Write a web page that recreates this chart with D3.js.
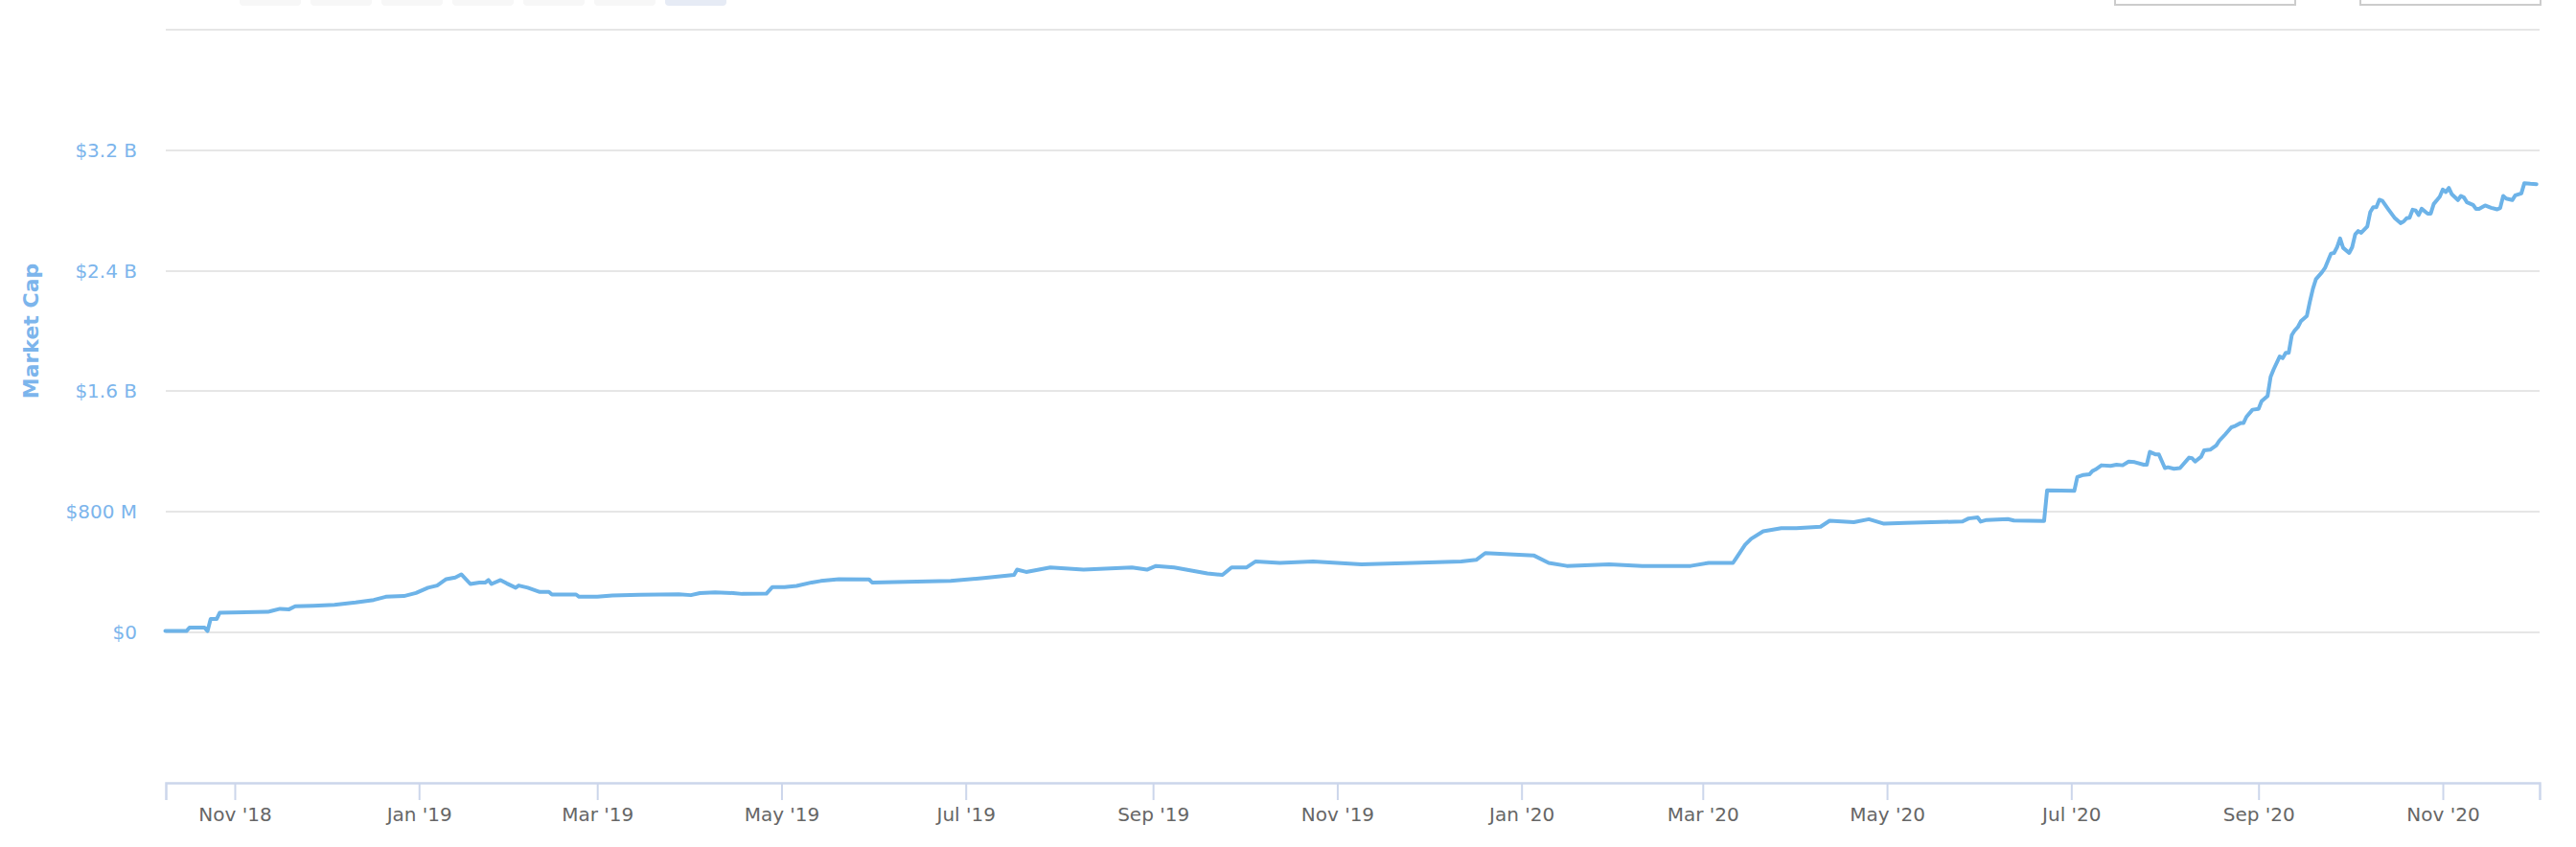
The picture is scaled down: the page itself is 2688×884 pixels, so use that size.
<!DOCTYPE html>
<html>
<head>
<meta charset="utf-8">
<script src="https://cdn.jsdelivr.net/npm/d3@7"></script>
<style>
  html, body { margin: 0; padding: 0; background: #ffffff; }
  svg { display: block; }
  text { font-family: "DejaVu Sans", "Noto Sans", sans-serif; }
</style>
</head>
<body>
<svg id="chart" width="2688" height="884"></svg>
<script>
// ---------------- DATA ----------------
const dates = [
  "2018-10-09","2018-10-16","2018-10-17","2018-10-22","2018-10-23","2018-10-24","2018-10-26","2018-10-27",
  "2018-11-12","2018-11-13","2018-11-16","2018-11-19","2018-11-21","2018-11-27","2018-12-04","2018-12-11",
  "2018-12-17","2018-12-21","2018-12-27","2018-12-31","2019-01-04","2019-01-07","2019-01-10","2019-01-13",
  "2019-01-15","2019-01-18","2019-01-21","2019-01-23","2019-01-24","2019-01-25","2019-01-28","2019-01-30",
  "2019-02-02","2019-02-03","2019-02-05","2019-02-06","2019-02-10","2019-02-13","2019-02-14","2019-02-22",
  "2019-02-23","2019-03-01","2019-03-06","2019-03-15","2019-03-28","2019-04-01","2019-04-04","2019-04-09",
  "2019-04-15","2019-04-18","2019-04-26","2019-04-28","2019-05-02","2019-05-06","2019-05-11","2019-05-14",
  "2019-05-20","2019-05-30","2019-05-31","2019-06-26","2019-07-07","2019-07-17","2019-07-18","2019-07-21",
  "2019-07-29","2019-08-09","2019-08-25","2019-08-30","2019-09-02","2019-09-08","2019-09-19","2019-09-24",
  "2019-09-27","2019-10-02","2019-10-05","2019-10-13","2019-10-24","2019-11-01","2019-11-09","2019-11-26",
  "2019-12-12","2019-12-17","2019-12-20","2020-01-05","2020-01-10","2020-01-16","2020-01-30","2020-02-10",
  "2020-02-26","2020-03-03","2020-03-11","2020-03-12","2020-03-15","2020-03-17","2020-03-21","2020-03-27",
  "2020-04-01","2020-04-09","2020-04-12","2020-04-20","2020-04-25","2020-04-30","2020-05-07","2020-05-26",
  "2020-05-28","2020-05-31","2020-06-01","2020-06-03","2020-06-10","2020-06-12","2020-06-22","2020-06-23",
  "2020-07-02","2020-07-03","2020-07-05","2020-07-07","2020-07-08","2020-07-09","2020-07-11","2020-07-14",
  "2020-07-16","2020-07-18","2020-07-20","2020-07-22","2020-07-25","2020-07-26","2020-07-27","2020-07-29",
  "2020-07-30","2020-08-01","2020-08-02","2020-08-04","2020-08-06","2020-08-09","2020-08-10","2020-08-11",
  "2020-08-13","2020-08-14","2020-08-16","2020-08-18","2020-08-19","2020-08-21","2020-08-23","2020-08-24",
  "2020-08-26","2020-08-27","2020-08-28","2020-08-30","2020-09-01","2020-09-02","2020-09-04","2020-09-05",
  "2020-09-06","2020-09-08","2020-09-09","2020-09-10","2020-09-11","2020-09-12","2020-09-13","2020-09-14",
  "2020-09-15","2020-09-17","2020-09-18","2020-09-19","2020-09-20","2020-09-22","2020-09-23","2020-09-25",
  "2020-09-26","2020-09-27","2020-09-28","2020-09-29","2020-10-01","2020-10-02","2020-10-03","2020-10-04",
  "2020-10-05","2020-10-07","2020-10-08","2020-10-09","2020-10-10","2020-10-11","2020-10-12","2020-10-14",
  "2020-10-16","2020-10-18","2020-10-19","2020-10-20","2020-10-21","2020-10-22","2020-10-23","2020-10-24",
  "2020-10-25","2020-10-27","2020-10-28","2020-10-29","2020-10-31","2020-11-01","2020-11-02","2020-11-03",
  "2020-11-04","2020-11-06","2020-11-07","2020-11-08","2020-11-09","2020-11-11","2020-11-12","2020-11-13",
  "2020-11-15","2020-11-17","2020-11-19","2020-11-20","2020-11-21","2020-11-22","2020-11-24","2020-11-25",
  "2020-11-27","2020-11-28","2020-11-30","2020-12-02"
];
// market cap in billions of USD
const marketCapB = [
  0.008,0.008,0.030,0.030,0.008,0.087,0.087,0.129,
  0.135,0.140,0.155,0.152,0.172,0.176,0.182,0.197,
  0.214,0.235,0.240,0.260,0.295,0.310,0.352,0.363,
  0.384,0.320,0.330,0.330,0.346,0.320,0.346,0.324,
  0.295,0.310,0.300,0.295,0.267,0.267,0.250,0.250,
  0.235,0.235,0.244,0.248,0.252,0.246,0.260,0.265,
  0.260,0.254,0.256,0.300,0.300,0.307,0.330,0.340,
  0.352,0.350,0.330,0.340,0.360,0.380,0.415,0.400,
  0.430,0.415,0.430,0.415,0.440,0.430,0.390,0.380,
  0.430,0.430,0.470,0.460,0.470,0.460,0.450,0.460,
  0.470,0.480,0.525,0.510,0.460,0.440,0.450,0.440,
  0.440,0.460,0.460,0.490,0.580,0.620,0.670,0.690,
  0.690,0.700,0.740,0.730,0.750,0.720,0.725,0.735,
  0.755,0.762,0.734,0.745,0.751,0.741,0.738,0.942,
  0.938,1.030,1.044,1.048,1.070,1.080,1.108,1.104,
  1.112,1.108,1.133,1.129,1.112,1.112,1.197,1.180,
  1.180,1.090,1.095,1.085,1.090,1.159,1.155,1.133,
  1.165,1.208,1.212,1.240,1.271,1.314,1.360,1.367,
  1.388,1.388,1.430,1.477,1.482,1.533,1.569,1.696,
  1.745,1.830,1.819,1.855,1.855,1.972,2.004,2.025,
  2.064,2.100,2.195,2.280,2.344,2.390,2.418,2.514,
  2.518,2.556,2.614,2.552,2.518,2.556,2.641,2.663,
  2.652,2.694,2.790,2.822,2.822,2.871,2.864,2.807,
  2.752,2.716,2.726,2.748,2.752,2.805,2.800,2.769,
  2.811,2.779,2.779,2.843,2.892,2.939,2.922,2.950,
  2.907,2.869,2.896,2.886,2.854,2.837,2.811,2.811,
  2.833,2.818,2.807,2.816,2.896,2.879,2.869,2.900,
  2.913,2.981,2.977,2.975
];
const xTickDates = ["2018-11-01","2019-01-01","2019-03-01","2019-05-01","2019-07-01","2019-09-01",
  "2019-11-01","2020-01-01","2020-03-01","2020-05-01","2020-07-01","2020-09-01","2020-11-01"];
const xTickLabels = ["Nov '18","Jan '19","Mar '19","May '19","Jul '19","Sep '19",
  "Nov '19","Jan '20","Mar '20","May '20","Jul '20","Sep '20","Nov '20"];
const yTickValues = [0, 0.8, 1.6, 2.4, 3.2];
const yTickLabels = ["$0", "$800 M", "$1.6 B", "$2.4 B", "$3.2 B"];
const yGridValues = [0, 0.8, 1.6, 2.4, 3.2, 4.0];
const xDomain = ["2018-10-09T04:00:00Z", "2020-12-03T01:00:00Z"];
const yDomain = [-1.0, 4.0];
const yTitle = "Market Cap";
const rangeButtonCount = 7;

// ---------------- LAYOUT ----------------
const parse = d3.utcParse("%Y-%m-%d");
const parseTime = d3.isoParse;
const plotLeft = 173, plotRight = 2650, plotTop = 31, plotBottom = 817;
const svg = d3.select("#chart");

const x = d3.scaleUtc().domain(xDomain.map(parseTime)).range([plotLeft, plotRight]);
const y = d3.scaleLinear().domain(yDomain).range([plotBottom, plotTop]);

const lineColor = "#6db3e8";
const labelBlue = "#7cb5ec";

// top UI remnants: range selector buttons and date inputs
const btnG = svg.append("g");
d3.range(rangeButtonCount).forEach(i => {
  btnG.append("rect")
    .attr("x", 250 + i * 74).attr("y", -14)
    .attr("width", 64).attr("height", 20).attr("rx", 4)
    .attr("fill", i === rangeButtonCount - 1 ? "#e6ebf5" : "#f7f7f7");
});
[2207, 2463].forEach(bx => {
  svg.append("rect").attr("x", bx).attr("y", -14)
    .attr("width", 188).attr("height", 19)
    .attr("fill", "#fff").attr("stroke", "#cccccc").attr("stroke-width", 2);
});

// gridlines
svg.append("g").selectAll("line").data(yGridValues).join("line")
  .attr("x1", plotLeft).attr("x2", plotRight)
  .attr("y1", d => Math.round(y(d))).attr("y2", d => Math.round(y(d)))
  .attr("stroke", "#e6e6e6").attr("stroke-width", 2);

// y labels
svg.append("g").selectAll("text").data(yTickValues).join("text")
  .attr("x", 143).attr("y", d => y(d))
  .attr("dy", "0.35em")
  .attr("text-anchor", "end")
  .attr("fill", labelBlue)
  .attr("font-size", 20)
  .text((d, i) => yTickLabels[i]);

// y title
svg.append("text")
  .attr("transform", `translate(40, ${(274 + 417) / 2}) rotate(-90)`)
  .attr("text-anchor", "middle")
  .attr("fill", labelBlue)
  .attr("font-size", 22)
  .attr("font-weight", "bold")
  .text(yTitle);

// x axis
const xAxis = d3.axisBottom(x)
  .tickValues(xTickDates.map(parse))
  .tickFormat((d, i) => xTickLabels[i])
  .tickSize(18)
  .tickPadding(8);
const gx = svg.append("g").attr("transform", `translate(0, ${plotBottom})`).call(xAxis);
gx.select(".domain").attr("stroke", "#ccd6eb").attr("stroke-width", 2.5);
gx.selectAll(".tick line").attr("stroke", "#ccd6eb").attr("stroke-width", 2);
gx.selectAll(".tick text").attr("fill", "#666666").attr("font-size", 20)
  .attr("font-family", "'DejaVu Sans', sans-serif");

// series line
const data = dates.map((d, i) => ({ date: parse(d), value: marketCapB[i] }));
const line = d3.line().x(d => x(d.date)).y(d => y(d.value));
svg.append("path").datum(data)
  .attr("d", line)
  .attr("fill", "none")
  .attr("stroke", lineColor)
  .attr("stroke-width", 4)
  .attr("stroke-linejoin", "round")
  .attr("stroke-linecap", "round");
</script>
</body>
</html>
